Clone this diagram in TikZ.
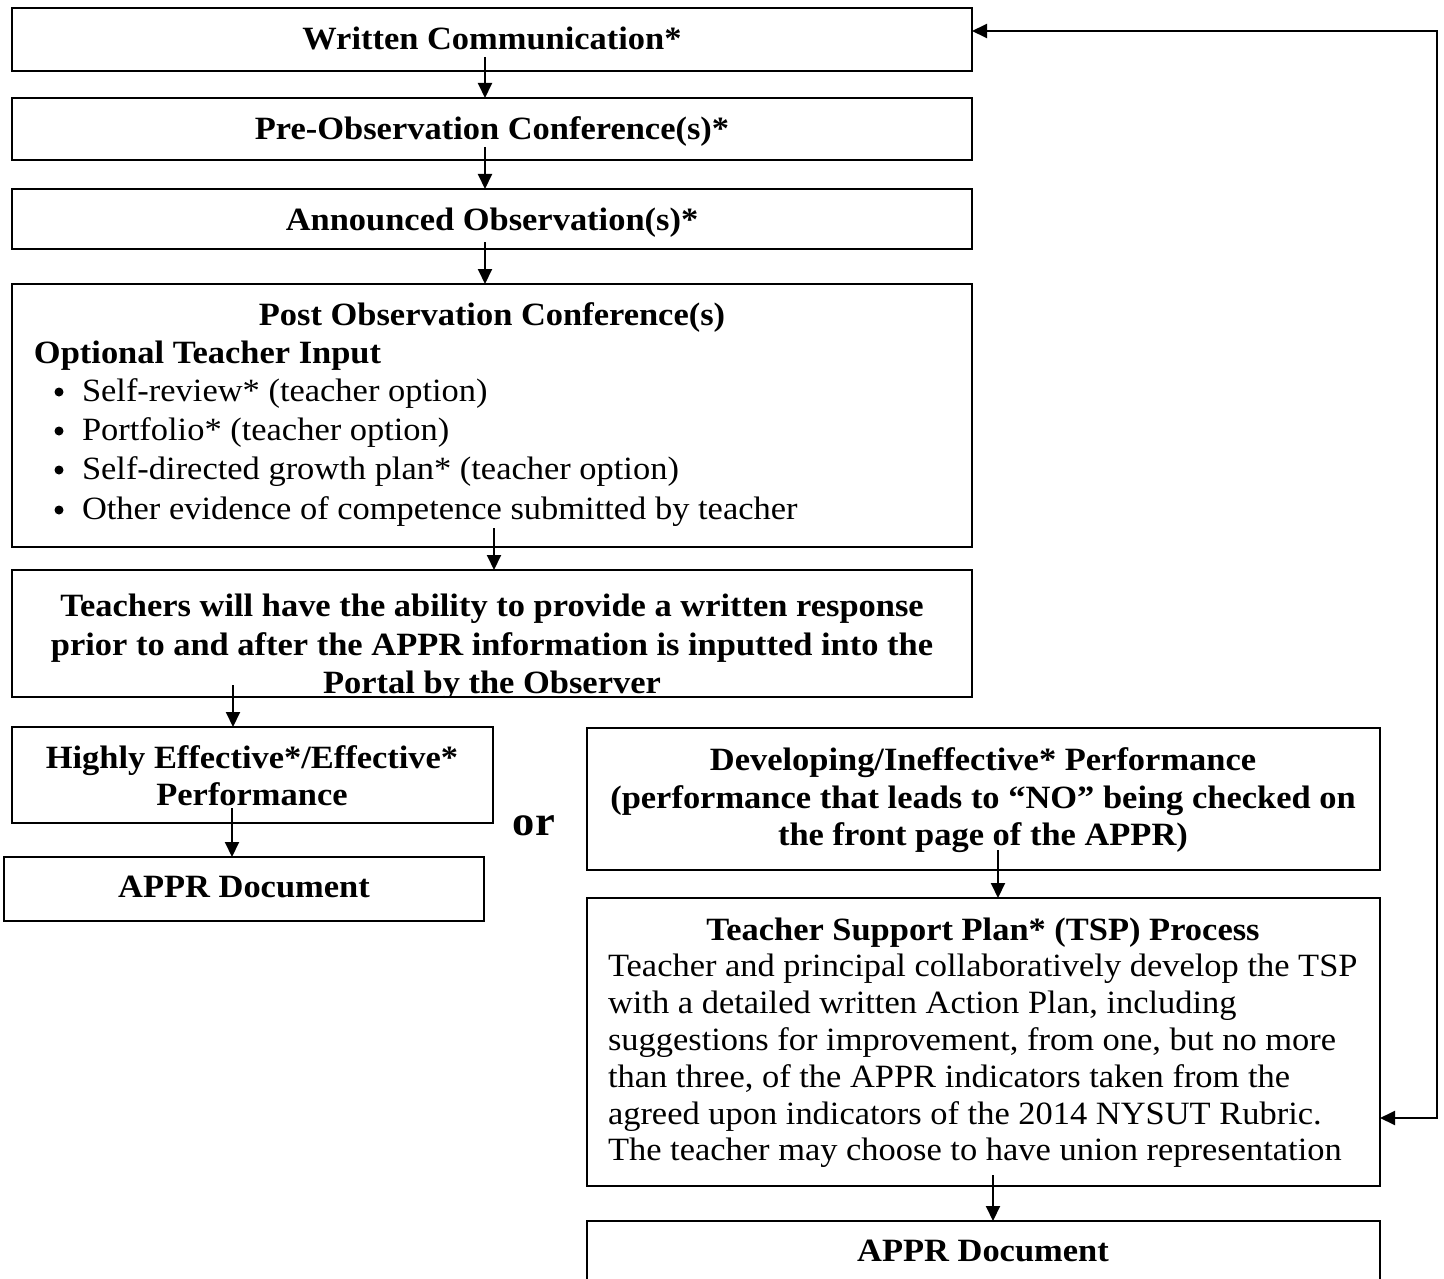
\documentclass[tikz,border=0pt]{standalone}
\usepackage{fontspec}
\setmainfont{Liberation Serif}[FakeStretch=1.06]
\usetikzlibrary{arrows.meta}
\begin{document}
\begin{tikzpicture}[x=1pt,y=-1pt,
  every node/.style={inner sep=0pt, outer sep=0pt, font=\fontsize{32.5}{37}\selectfont},
  box/.style={draw, line width=2pt, fill=none},
  tb/.style={anchor=base, font=\fontsize{32.5}{37}\selectfont\bfseries},
  tl/.style={anchor=base west, font=\fontsize{32.5}{37}\selectfont\bfseries},
  tr/.style={anchor=base west, font=\fontsize{32.5}{37}\selectfont},
  dot/.style={circle, fill, minimum size=9pt},
  arr/.style={line width=2pt, -{Triangle[length=15pt,width=14pt]}},
  dbl/.style={line width=2pt, {Triangle[length=15pt,width=14pt]}-{Triangle[length=15pt,width=14pt]}}
]
\useasboundingbox (0,0) rectangle (1444,1279);
\clip (0,0) rectangle (1444,1279);

% boxes
\node[box, minimum width=960, minimum height=63] (wc)   at (492,39.5) {};
\node[box, minimum width=960, minimum height=62] (pre)  at (492,129) {};
\node[box, minimum width=960, minimum height=60] (ann)  at (492,219) {};
\node[box, minimum width=960, minimum height=263] (post) at (492,415.5) {};
\node[box, minimum width=960, minimum height=127] (resp) at (492,633.5) {};
\node[box, minimum width=481, minimum height=96] (he)   at (252.5,775) {};
\node[box, minimum width=480, minimum height=64] (appl) at (244,889) {};
\node[box, minimum width=793, minimum height=142] (dev)  at (983.5,799) {};
\node[box, minimum width=793, minimum height=288] (tsp)  at (983.5,1042) {};
\node[box, minimum width=793, minimum height=80] (appr) at (983.5,1261) {};

% texts
\node[tb] (t1) at (492,50) {Written Communication*};
\node[tb] (t2) at (492,140) {Pre-Observation Conference(s)*};
\node[tb] (t3) at (492,230) {Announced Observation(s)*};

\node[tb] (t4) at (492,325) {Post Observation Conference(s)};
\node[tl] (t5) at (34,363) {Optional Teacher Input};
\node[dot] (b1) at (59,392) {};
\node[dot] (b2) at (59,431) {};
\node[dot] (b3) at (59,470) {};
\node[dot] (b4) at (59,510) {};
\node[tr] (l1) at (82,401) {Self-review* (teacher option)};
\node[tr] (l2) at (82,440) {Portfolio* (teacher option)};
\node[tr] (l3) at (82,479) {Self-directed growth plan* (teacher option)};
\node[tr] (l4) at (82,519) {Other evidence of competence submitted by teacher};

\begin{scope}
\clip (12,570) rectangle (972,697);
\node[tb] (r1) at (492,616) {Teachers will have the ability to provide a written response};
\node[tb] (r2) at (492,655) {prior to and after the APPR information is inputted into the};
\node[tb] (r3) at (492,693) {Portal by the Observer};
\end{scope}

\node[tb] (h1) at (252,768) {Highly Effective*/Effective*};
\node[tb] (h2) at (252,805) {Performance};
\node[tb] (ad1) at (244,897) {APPR Document};
\node[tb, font=\fontsize{42}{42}\selectfont\bfseries] (or) at (534,835) {or};

\node[tb] (d1) at (983,770) {Developing/Ineffective* Performance};
\node[tb] (d2) at (983,808) {(performance that leads to “NO” being checked on};
\node[tb] (d3) at (983,845) {the front page of the APPR)};

\node[tb] (s0) at (983,940) {Teacher Support Plan* (TSP) Process};
\node[tr] (s1) at (608,976) {Teacher and principal collaboratively develop the TSP};
\node[tr] (s2) at (608,1013) {with a detailed written Action Plan, including};
\node[tr] (s3) at (608,1050) {suggestions for improvement, from one, but no more};
\node[tr] (s4) at (608,1087) {than three, of the APPR indicators taken from the};
\node[tr] (s5) at (608,1124) {agreed upon indicators of the 2014 NYSUT Rubric.};
\node[tr] (s6) at (608,1160) {The teacher may choose to have union representation};

\node[tb] (ad2) at (983,1261) {APPR Document};

% arrows
\coordinate (a1) at (485,57);
\coordinate (a2) at (485,147);
\coordinate (a3) at (485,242);
\coordinate (a4) at (494,528);
\coordinate (a5) at (233,685);
\coordinate (a6) at (232,808);
\coordinate (a7) at (998,850);
\coordinate (a8) at (993,1175);
\draw[arr] (a1) -- (a1 |- pre.north);
\draw[arr] (a2) -- (a2 |- ann.north);
\draw[arr] (a3) -- (a3 |- post.north);
\draw[arr] (a4) -- (a4 |- resp.north);
\draw[arr] (a5) -- (a5 |- he.north);
\draw[arr] (a6) -- (a6 |- appl.north);
\draw[arr] (a7) -- (a7 |- tsp.north);
\draw[arr] (a8) -- (a8 |- appr.north);

\coordinate (lt) at (1437,31);
\coordinate (lb) at (1437,1118);
\draw[dbl] (tsp.east |- lb) -- (lb) -- (lt) -- (wc.east |- lt);
\end{tikzpicture}
\end{document}
